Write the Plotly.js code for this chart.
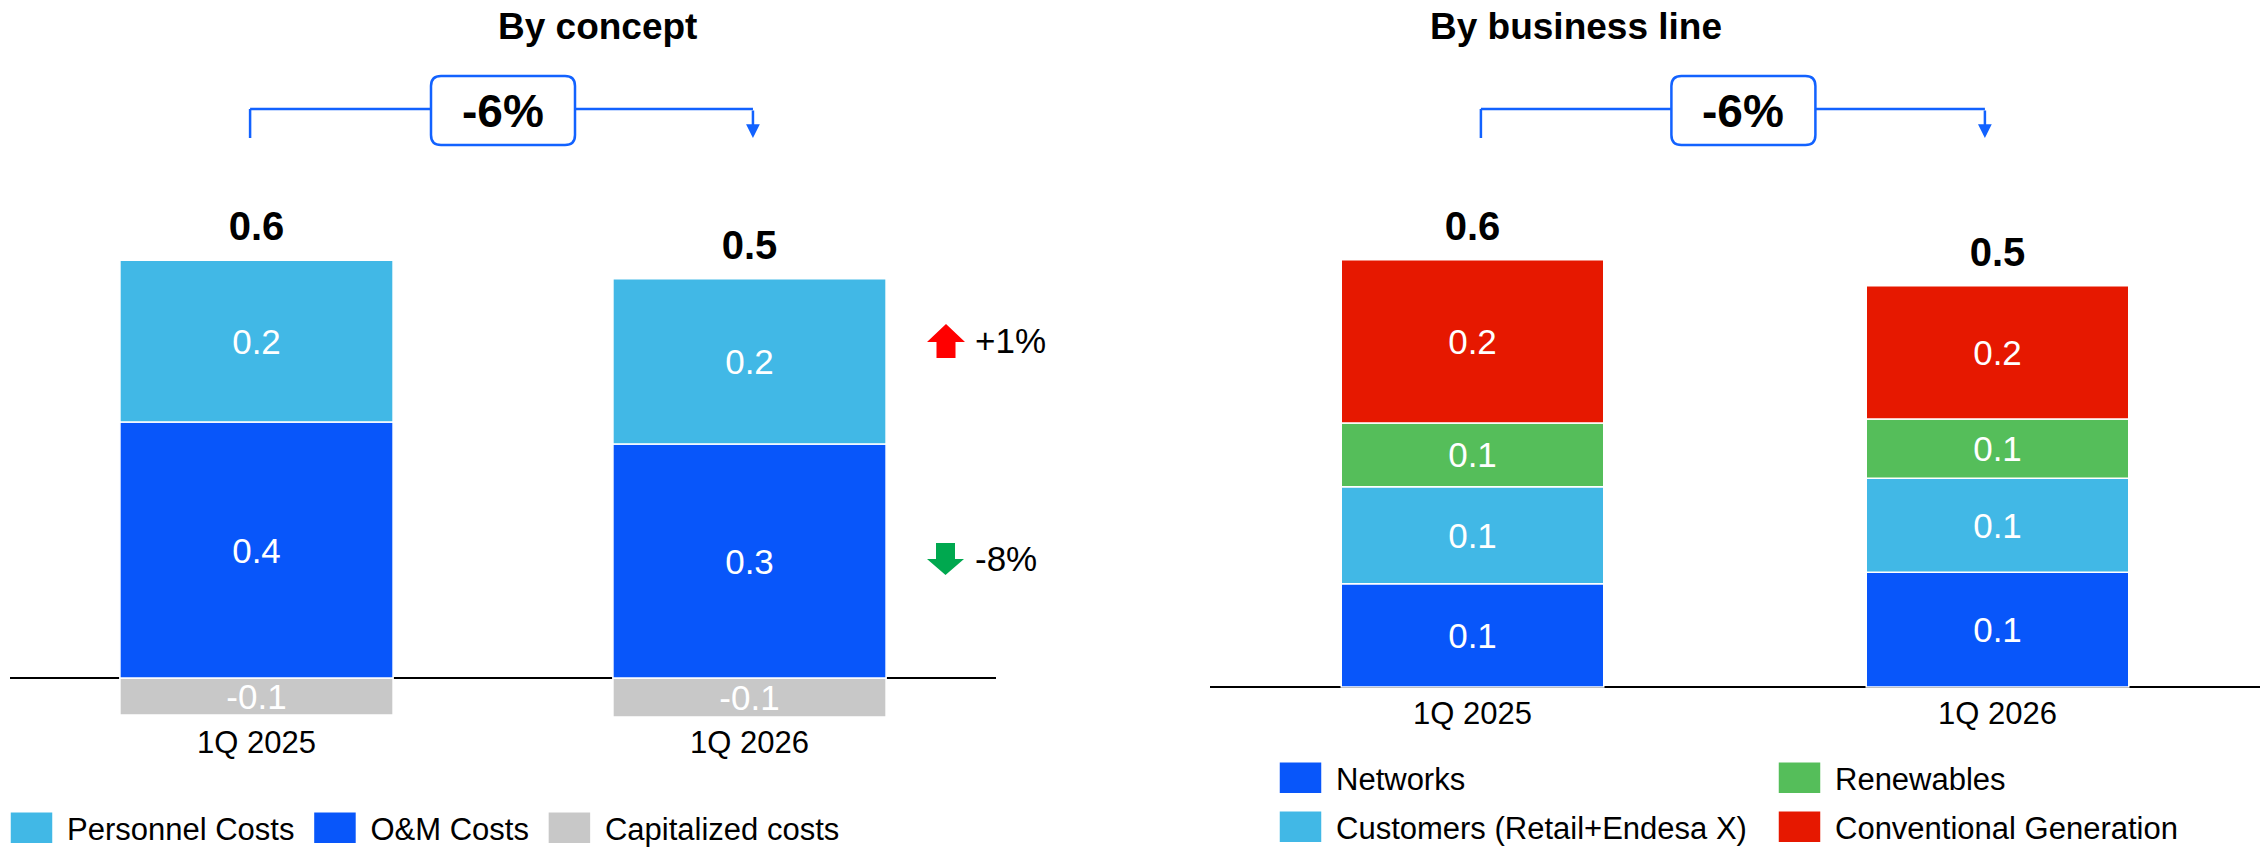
<!DOCTYPE html>
<html><head><meta charset="utf-8">
<script src="https://cdn.plot.ly/plotly-3.0.1.min.js"></script>
<style>html,body{margin:0;padding:0;background:#fff}#chart{width:2267px;height:848px}</style>
</head><body><div id="chart"></div>
<script>
// ---------- data (€bn) ----------
const periods = ['1Q 2025', '1Q 2026'];
// By concept
const capitalized = [-0.054, -0.057];
const omCosts = [0.373, 0.341];
const personnel = [0.236, 0.241];
// By business line
const networks = [0.134, 0.149];
const customers = [0.126, 0.122];
const renewables = [0.083, 0.077];
const conventional = [0.212, 0.173];
// texts
const panelTitles = ['By concept', 'By business line'];
const totalChange = ['-6%', '-6%'];
const conceptChange = ['+1%', '-8%'];
const conceptNames = ['Personnel Costs', 'O&M Costs', 'Capitalized costs'];
const lineNames = ['Networks', 'Customers (Retail+Endesa X)', 'Renewables', 'Conventional Generation'];

// ---------- derived ----------
const conceptTop = periods.map((_, i) => omCosts[i] + personnel[i]);
const conceptTotal = periods.map((_, i) => omCosts[i] + personnel[i] + capitalized[i]);
const lineTotal = periods.map((_, i) => networks[i] + customers[i] + renewables[i] + conventional[i]);

const FONT = 'Liberation Sans, Arial, sans-serif';
const COL = {light: '#41B8E6', blue: '#0856FA', grey: '#C8C8C8', green: '#55BE5A', red: '#E61800', line: '#1262FF'};

function bar(name, y, color, xa, ya, legend, rank, width) {
  return {
    type: 'bar', name: name, x: periods, y: y, xaxis: xa, yaxis: ya,
    legend: legend, legendrank: rank, width: width,
    marker: {color: color, line: {color: '#ffffff', width: 1.5}},
    texttemplate: '%{y:.1f}', textposition: 'inside', insidetextanchor: 'middle',
    textangle: 0, constraintext: 'none',
    textfont: {color: '#ffffff', size: 35, family: FONT},
    hoverinfo: 'skip'
  };
}
function totals(top, total, xa, ya) {
  return {
    type: 'scatter', mode: 'markers+text', x: periods, y: top, customdata: total,
    marker: {size: 14, opacity: 0, color: '#ffffff'},
    texttemplate: '%{customdata:.1f}', textposition: 'top center',
    textfont: {size: 40, family: FONT, color: '#000', weight: 'bold'},
    xaxis: xa, yaxis: ya, showlegend: false, cliponaxis: false, hoverinfo: 'skip'
  };
}

const data = [
  bar(conceptNames[2], capitalized, COL.grey, 'x', 'y', 'legend', 3, 0.554),
  bar(conceptNames[1], omCosts, COL.blue, 'x', 'y', 'legend', 2, 0.554),
  bar(conceptNames[0], personnel, COL.light, 'x', 'y', 'legend', 1, 0.554),
  totals(conceptTop, conceptTotal, 'x', 'y'),
  bar(lineNames[0], networks, COL.blue, 'x2', 'y2', 'legend2', 1, 0.5),
  bar(lineNames[1], customers, COL.light, 'x2', 'y2', 'legend3', 1, 0.5),
  bar(lineNames[2], renewables, COL.green, 'x2', 'y2', 'legend2', 2, 0.5),
  bar(lineNames[3], conventional, COL.red, 'x2', 'y2', 'legend3', 2, 0.5),
  totals(lineTotal, lineTotal, 'x2', 'y2')
];

// ---------- decorations ----------
const yTop = 1 - 109 / 848, yLow = 1 - 138 / 848, yBox = 1 - 110.5 / 848;
function roundRect(w, h, r) {
  const a = w / 2, b = h / 2;
  return `M${-a + r},${-b} H${a - r} Q${a},${-b} ${a},${-b + r} V${b - r} Q${a},${b} ${a - r},${b} H${-a + r} Q${-a},${b} ${-a},${b - r} V${-b + r} Q${-a},${-b} ${-a + r},${-b} Z`;
}
function bracket(xa, x0, x1, xc) {
  const ln = {color: COL.line, width: 2.5};
  return [
    {type: 'line', xref: xa, yref: 'paper', x0: x0, x1: x0, y0: yLow, y1: yTop, line: ln},
    {type: 'line', xref: xa, yref: 'paper', x0: x0, x1: x1, y0: yTop, y1: yTop, line: ln},
    {type: 'path', xref: xa, yref: 'paper', xsizemode: 'pixel', ysizemode: 'pixel',
     xanchor: xc, yanchor: yBox, path: roundRect(144, 69, 10),
     fillcolor: '#ffffff', line: {color: COL.line, width: 2.5}, layer: 'above'}
  ];
}
const upArrow = 'M0,17 L19,-1 L9.5,-1 L9.5,-17 L-9.5,-17 L-9.5,-1 L-19,-1 Z';
const downArrow = 'M0,-16 L18.5,0 L9.5,0 L9.5,16 L-9.5,16 L-9.5,0 L-18.5,0 Z';
const shapes = [].concat(
  bracket('x', -0.013, 1.007, 0.5),
  bracket('x2', 0.016, 0.976, 0.516),
  [
    {type: 'path', xref: 'paper', yref: 'paper', xsizemode: 'pixel', ysizemode: 'pixel',
     xanchor: 946 / 2267, yanchor: 1 - 341 / 848, path: upArrow, fillcolor: '#FF0000', line: {width: 0}},
    {type: 'path', xref: 'paper', yref: 'paper', xsizemode: 'pixel', ysizemode: 'pixel',
     xanchor: 945.5 / 2267, yanchor: 1 - 559 / 848, path: downArrow, fillcolor: '#00A84F', line: {width: 0}}
  ]
);

function arrowEnd(xa, x) {
  return {xref: xa, yref: 'paper', x: x, y: yLow, ax: 0, ay: -29, text: '', showarrow: true,
          arrowhead: 2, arrowsize: 1.1, arrowwidth: 2.5, arrowcolor: COL.line, standoff: 0};
}
const annotations = [
  {xref: 'paper', yref: 'paper', x: 496 / 2267, y: 1 - 27 / 848, text: panelTitles[0], showarrow: false,
   font: {size: 37, family: FONT, color: '#000', weight: 'bold'}, yanchor: 'middle'},
  {xref: 'paper', yref: 'paper', x: 1724 / 2267, y: 1 - 27 / 848, text: panelTitles[1], showarrow: false,
   font: {size: 37, family: FONT, color: '#000', weight: 'bold'}, yanchor: 'middle'},
  arrowEnd('x', 1.007),
  arrowEnd('x2', 0.976),
  {xref: 'x', yref: 'paper', x: 0.5, y: yBox, yanchor: 'middle', text: totalChange[0], showarrow: false,
   font: {size: 46, family: FONT, color: '#000', weight: 'bold'}},
  {xref: 'x2', yref: 'paper', x: 0.516, y: yBox, yanchor: 'middle', text: totalChange[1], showarrow: false,
   font: {size: 46, family: FONT, color: '#000', weight: 'bold'}},
  {xref: 'paper', yref: 'paper', x: 973 / 2267, y: 1 - 341 / 848, xanchor: 'left', yanchor: 'middle',
   text: conceptChange[0], showarrow: false, font: {size: 35, family: FONT, color: '#000'}},
  {xref: 'paper', yref: 'paper', x: 973 / 2267, y: 1 - 558 / 848, xanchor: 'left', yanchor: 'middle',
   text: conceptChange[1], showarrow: false, font: {size: 35, family: FONT, color: '#000'}}
];

const xBase = {type: 'category', range: [-0.5, 1.5], showgrid: false, zeroline: false, showline: false,
               ticks: '', tickfont: {size: 31, family: FONT, color: '#000'}, fixedrange: true};
const yBase = {showgrid: false, showticklabels: false, zeroline: true, zerolinecolor: '#000',
               zerolinewidth: 2, ticks: '', fixedrange: true, layer: 'above traces'};
const legBase = {orientation: 'h', xanchor: 'left', yanchor: 'middle', itemwidth: 61,
                 font: {size: 31, family: FONT, color: '#000'}, bgcolor: 'rgba(0,0,0,0)', borderwidth: 0};

const layout = {
  width: 2267, height: 848,
  margin: {l: 0, r: 0, t: 0, b: 0, autoexpand: false},
  paper_bgcolor: '#ffffff', plot_bgcolor: 'rgba(0,0,0,0)',
  barmode: 'relative', showlegend: true,
  font: {family: FONT, color: '#000'},
  xaxis: Object.assign({}, xBase, {domain: [10 / 2267, 996 / 2267], anchor: 'y'}),
  yaxis: Object.assign({}, yBase, {domain: [(848 - 721) / 848, (848 - 150) / 848],
                                    range: [(678 - 721) / 686, (678 - 150) / 686], anchor: 'x'}),
  xaxis2: Object.assign({}, xBase, {domain: [1210 / 2267, 2260 / 2267], anchor: 'y2'}),
  yaxis2: Object.assign({}, yBase, {domain: [(848 - 692) / 848, (848 - 150) / 848],
                                     range: [(687 - 692) / 770, (687 - 150) / 770], anchor: 'x2'}),
  legend: Object.assign({}, legBase, {x: -4 / 2267, y: 1 - 828 / 848}),
  legend2: Object.assign({}, legBase, {x: 1265 / 2267, y: 1 - 778 / 848, entrywidth: 423, entrywidthmode: 'pixels'}),
  legend3: Object.assign({}, legBase, {x: 1265 / 2267, y: 1 - 827 / 848, entrywidth: 423, entrywidthmode: 'pixels'}),
  shapes: shapes,
  annotations: annotations
};

function bigSwatches(gd) {
  gd.querySelectorAll('g.legendpoints path').forEach(function (p) {
    p.setAttribute('d', 'M21.5,16H-21.5V-16H21.5Z');
  });
}
Plotly.newPlot('chart', data, layout, {staticPlot: true, displayModeBar: false}).then(function (gd) {
  bigSwatches(gd);
  gd.on('plotly_afterplot', function () { bigSwatches(gd); });
});
</script>
</body></html>
